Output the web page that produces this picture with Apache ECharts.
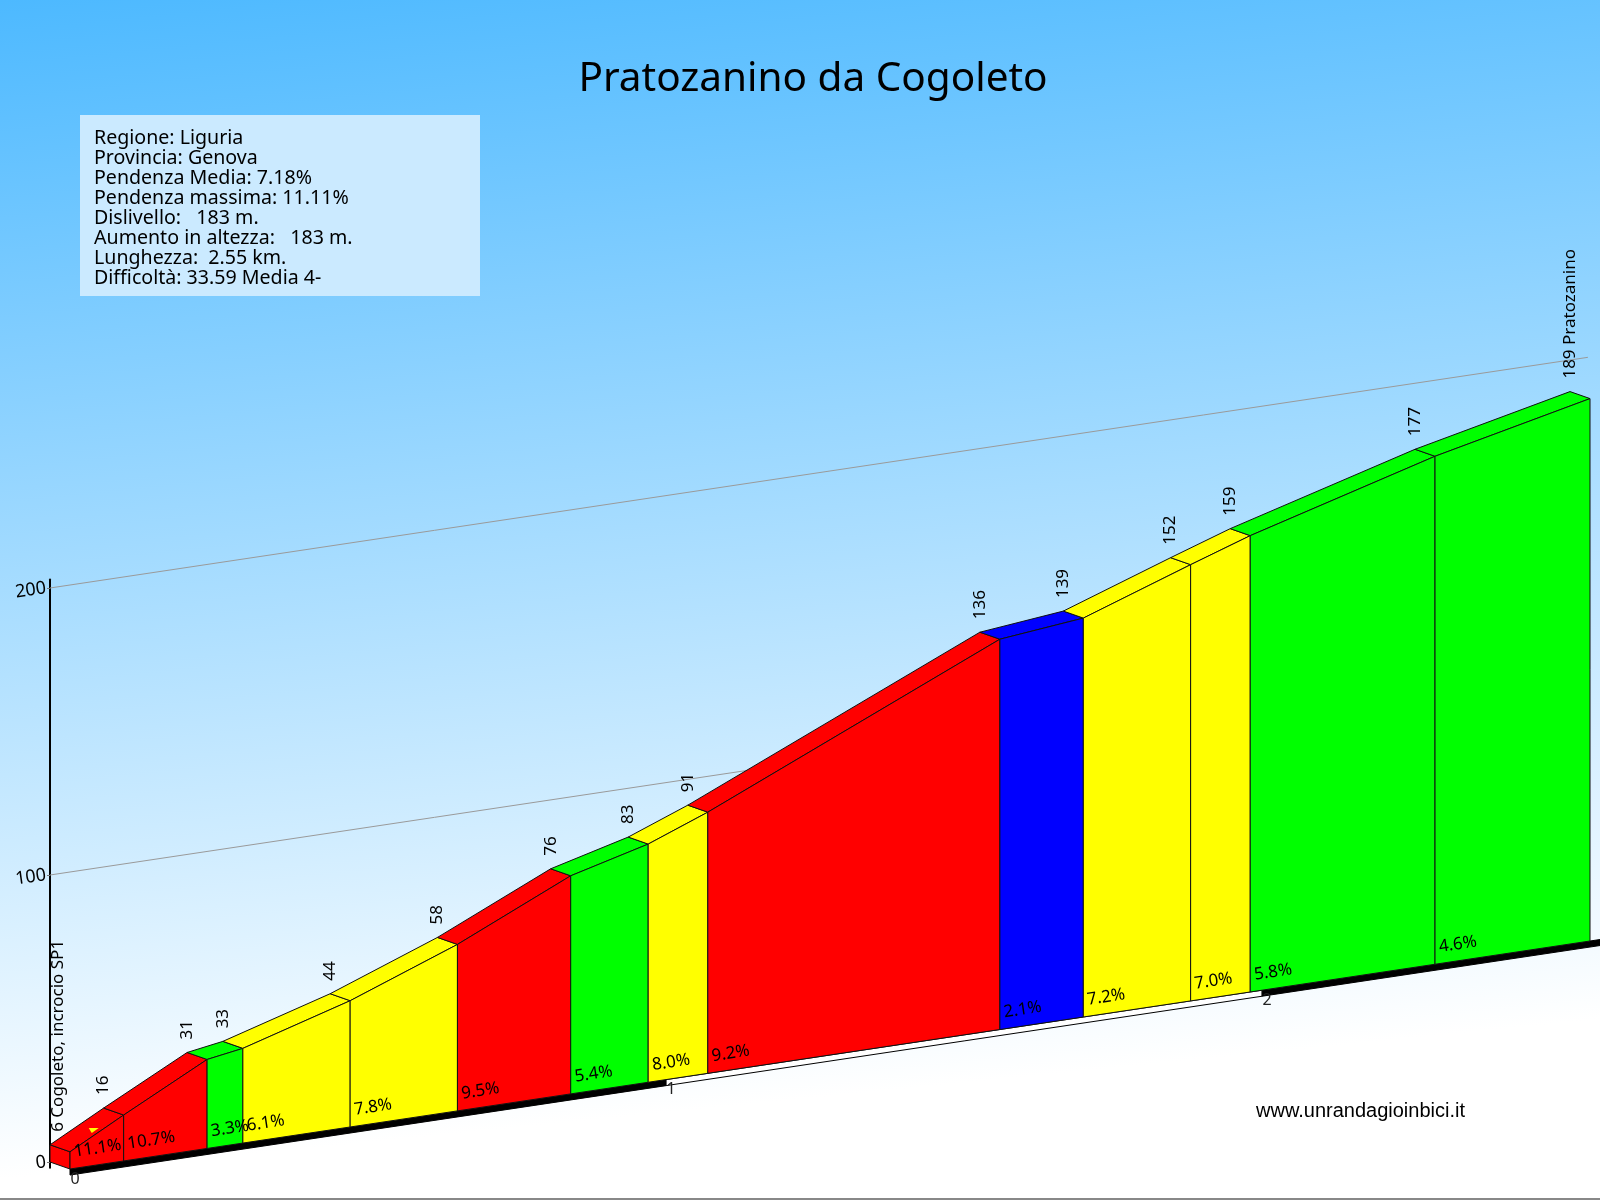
<!DOCTYPE html>
<html>
<head>
<meta charset="utf-8">
<style>html,body{margin:0;padding:0;background:#fff}#c{width:1600px;height:1200px}</style>
<script src="https://cdn.jsdelivr.net/npm/echarts@6/dist/echarts.min.js"></script>
</head>
<body>
<div id="c"></div>
<script>
const titleText = 'Pratozanino da Cogoleto';
const infoLines = [
  'Regione: Liguria',
  'Provincia: Genova',
  'Pendenza Media: 7.18%',
  'Pendenza massima: 11.11%',
  'Dislivello:   183 m.',
  'Aumento in altezza:   183 m.',
  'Lunghezza:  2.55 km.',
  'Difficoltà: 33.59 Media 4-'
];
const siteText = 'www.unrandagioinbici.it';
const kmMarks = [0, 0.09, 0.23, 0.29, 0.47, 0.65, 0.84, 0.97, 1.07, 1.56, 1.70, 1.88, 1.98, 2.29, 2.55];
const elevations = [6, 16, 31, 33, 44, 58, 76, 83, 91, 136, 139, 152, 159, 177, 189];
const elevationLabels = ['6 Cogoleto, incrocio SP1', '16', '31', '33', '44', '58', '76', '83', '91', '136', '139', '152', '159', '177', '189 Pratozanino'];
const gradients = [11.1, 10.7, 3.3, 6.1, 7.8, 9.5, 5.4, 8.0, 9.2, 2.1, 7.2, 7.0, 5.8, 4.6];
const kmTicks = [0, 1, 2];
const kmBands = [0, 1, 2, 2.62];
const altTicks = [100, 200];
const altLabels = [0, 100, 200];
const startFlag = [0.07, 9];

const SKEW = 0.15, DX = 20, DY = 7;
const UI_FONT = '"Noto Sans"', PCT_FONT = '"Noto Sans"';
const colorOf = g => g < 3 ? '#0000ff' : g < 6 ? '#00ff00' : g < 9 ? '#ffff00' : '#ff0000';
const project = (api, km, alt, front) => {
  const p = api.coord([km, alt]);
  const x0 = api.coord([0, 0])[0];
  const y = p[1] - (p[0] - x0) * SKEW;
  return front ? [p[0] + DX, y + DY] : [p[0], y];
};
const poly = (points, fill, stroke) => ({
  type: 'polygon', shape: { points },
  style: { fill, stroke: stroke || '#111', lineWidth: 1 }
});

const chart = echarts.init(document.getElementById('c'), null, { renderer: 'canvas' });
chart.setOption({
  animation: false,
  backgroundColor: new echarts.graphic.LinearGradient(0, 0, 0.073, 0.973, [
    { offset: 0, color: '#4db9ff' },
    { offset: 1, color: '#ffffff' }
  ]),
  title: {
    text: titleText, left: 808, top: 54, textAlign: 'center',
    textStyle: { fontFamily: UI_FONT, fontSize: 40.5, fontWeight: 'normal', color: '#000' }
  },
  grid: { left: 50, top: 579.4, width: 1520, height: 588.35 },
  xAxis: { type: 'value', min: 0, max: 2.55, show: false },
  yAxis: {
    type: 'value', min: -2, max: 203,
    splitLine: { show: false },
    axisLine: { show: true, onZero: false, lineStyle: { color: '#000', width: 2 } },
    axisTick: { show: true, length: 3, customValues: altLabels, lineStyle: { color: '#777' } },
    axisLabel: { color: '#000', fontFamily: UI_FONT, fontSize: 18, margin: 4, rotate: 8, customValues: altLabels }
  },
  graphic: [
    { type: 'rect', x: 80, y: 115, shape: { width: 400, height: 181 }, style: { fill: '#cbeaff' }, z: 50 },
    { type: 'text', x: 94, y: 128, z: 51, style: { text: infoLines.join('\n'), fill: '#000', font: '19.6px ' + UI_FONT, lineHeight: 20 } },
    { type: 'text', x: 1256, y: 1101, z: 51, style: { text: siteText, fill: '#000', font: '20px "Liberation Sans"' } },
    { type: 'rect', x: 0, y: 1198, shape: { width: 1600, height: 2 }, style: { fill: '#888' }, z: 51 }
  ],
  series: [
    {
      type: 'custom', coordinateSystem: 'cartesian2d', clip: false, z: 2,
      data: altTicks.map(v => [0, v]),
      encode: { x: 0, y: 1 },
      renderItem: (params, api) => {
        const v = api.value(1);
        const a = project(api, 0, v), b = project(api, 2.58, v);
        return { type: 'line', shape: { x1: a[0], y1: a[1], x2: b[0], y2: b[1] }, style: { stroke: '#9a9a9a', lineWidth: 1 } };
      }
    },
    {
      type: 'custom', coordinateSystem: 'cartesian2d', clip: false, z: 3,
      data: kmBands.slice(0, -1).map((k, i) => [k, kmBands[i + 1], i]),
      encode: { x: [0, 1] },
      renderItem: (params, api) => {
        const a = api.value(0), b = api.value(1), i = api.value(2);
        const t = 2.1;
        return poly([project(api, a, 0, 1), project(api, b, 0, 1), project(api, b, -t, 1), project(api, a, -t, 1)],
          i % 2 ? '#ffffff' : '#000000', '#000');
      }
    },
    {
      type: 'custom', coordinateSystem: 'cartesian2d', clip: false, z: 4,
      data: gradients.map((g, i) => [kmMarks[i], kmMarks[i + 1], elevations[i], elevations[i + 1], g]),
      encode: { x: [0, 1], y: [2, 3] },
      renderItem: (params, api) => {
        const k0 = api.value(0), k1 = api.value(1), e0 = api.value(2), e1 = api.value(3);
        const col = colorOf(api.value(4));
        const children = [];
        if (params.dataIndex === 0) {
          children.push(poly([project(api, k0, e0), project(api, k0, e0, 1), project(api, k0, 0, 1), project(api, k0, 0)], col));
        }
        children.push(poly([project(api, k0, e0), project(api, k1, e1), project(api, k1, e1, 1), project(api, k0, e0, 1)], col));
        children.push(poly([project(api, k0, e0, 1), project(api, k1, e1, 1), project(api, k1, 0, 1), project(api, k0, 0, 1)], col));
        return { type: 'group', children };
      }
    },
    {
      type: 'custom', coordinateSystem: 'cartesian2d', clip: false, z: 5,
      data: [startFlag],
      encode: { x: 0, y: 1 },
      renderItem: (params, api) => {
        const p = project(api, api.value(0), api.value(1));
        return { type: 'polygon', shape: { points: [[p[0] - 3, p[1] - 2], [p[0] + 7, p[1] - 2], [p[0], p[1] + 3]] }, style: { fill: '#ffff00' } };
      }
    },
    {
      type: 'custom', coordinateSystem: 'cartesian2d', clip: false, z: 6,
      data: elevations.map((e, i) => [kmMarks[i], e, i]),
      encode: { x: 0, y: 1 },
      renderItem: (params, api) => {
        const i = api.value(2);
        const p = project(api, api.value(0), api.value(1));
        const extra = i === 0 ? 8 : 0;
        return {
          type: 'text', x: p[0] + extra, y: p[1] - 13, rotation: Math.PI / 2,
          style: { text: elevationLabels[i], x: 0, y: 0, align: 'left', verticalAlign: 'middle', fill: '#000', font: '17px ' + UI_FONT }
        };
      }
    },
    {
      type: 'custom', coordinateSystem: 'cartesian2d', clip: false, z: 6,
      data: gradients.map((g, i) => [kmMarks[i], g]),
      encode: { x: 0 },
      renderItem: (params, api) => {
        const p = project(api, api.value(0), 0, 1);
        return {
          type: 'text', x: p[0] + 4, y: p[1] - 17, rotation: Math.atan(SKEW),
          style: { text: api.value(1).toFixed(1) + '%', x: 0, y: 0, align: 'left', verticalAlign: 'middle', fill: '#000', font: '17px ' + PCT_FONT }
        };
      }
    },
    {
      type: 'custom', coordinateSystem: 'cartesian2d', clip: false, z: 6,
      data: kmTicks.map(k => [k, 0]),
      encode: { x: 0, y: 1 },
      renderItem: (params, api) => {
        const k = api.value(0);
        const p = project(api, k, 0, 1);
        return {
          type: 'text', x: p[0] + 5, y: p[1] + 10,
          style: { text: String(k), x: 0, y: 0, align: 'center', verticalAlign: 'middle', fill: '#222', font: '16px ' + UI_FONT }
        };
      }
    }
  ]
});
</script>
</body>
</html>
